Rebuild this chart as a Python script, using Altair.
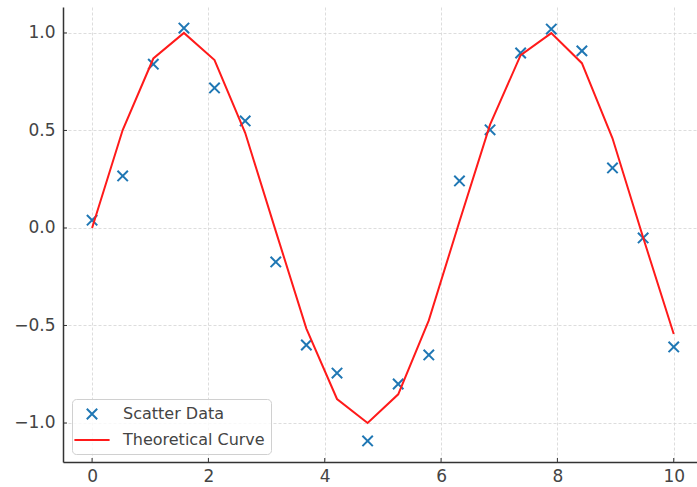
import altair as alt
import pandas as pd

x_vals = [0.0, 0.526, 1.053, 1.579, 2.105, 2.632, 3.158, 3.684, 4.211, 4.737,
          5.263, 5.789, 6.316, 6.842, 7.368, 7.895, 8.421, 8.947, 9.474, 10.0]
scatter_y = [0.04, 0.267, 0.84, 1.025, 0.718, 0.549, -0.174, -0.60, -0.744, -1.092,
             -0.80, -0.651, 0.241, 0.503, 0.897, 1.02, 0.908, 0.308, -0.051, -0.61]
curve_y = [0.0, 0.502, 0.869, 1.0, 0.861, 0.488, -0.016, -0.516, -0.877, -1.0,
           -0.853, -0.474, 0.033, 0.530, 0.886, 0.999, 0.845, 0.460, -0.049, -0.544]
series_names = ["Scatter Data", "Theoretical Curve"]
x_ticks = [0, 2, 4, 6, 8, 10]
y_ticks = [-1.0, -0.5, 0.0, 0.5, 1.0]

scatter_df = pd.DataFrame({"x": x_vals, "y": scatter_y, "series": series_names[0]})
curve_df = pd.DataFrame({"x": x_vals, "y": curve_y, "series": series_names[1]})
xtick_df = pd.DataFrame({"x": x_ticks})
ytick_df = pd.DataFrame({"y": y_ticks})

FONT = "DejaVu Sans"
W, H = 634, 455
xscale = alt.Scale(domain=[-0.5, 10.4], nice=False, zero=False)
yscale = alt.Scale(domain=[-1.2, 1.133], nice=False, zero=False)
color_scale = alt.Scale(domain=series_names, range=["#1f77b4", "#ff1a1a"])
X_PATH = "M-0.65,-0.65L0.65,0.65M0.65,-0.65L-0.65,0.65"
LINE_PATH = "M-2.2,0L2.2,0"
shape_scale = alt.Scale(domain=series_names, range=[X_PATH, LINE_PATH])

minus_expr = "replace(format(datum.value, '.1f'), '-', '\u2212')"

x_axis = alt.Axis(values=x_ticks, grid=True, gridDash=[3, 2], gridColor="#d4d4d4",
                  gridWidth=0.8, ticks=False, labelFontSize=17, labelColor="#444",
                  labelFont=FONT, labelPadding=6, domainColor="#333", domainWidth=1.5,
                  title=None, format="d")
y_axis = alt.Axis(values=y_ticks, grid=True, gridDash=[3, 2], gridColor="#d4d4d4",
                  gridWidth=0.8, ticks=False, labelFontSize=17, labelColor="#444",
                  labelFont=FONT, labelPadding=8, domainColor="#333", domainWidth=1.5,
                  title=None, labelExpr=minus_expr)

points = alt.Chart(scatter_df).mark_point(filled=False, size=256, strokeWidth=2, opacity=1).encode(
    x=alt.X("x:Q", scale=xscale, axis=x_axis),
    y=alt.Y("y:Q", scale=yscale, axis=y_axis),
    color=alt.Color("series:N", scale=color_scale,
                    legend=alt.Legend(title=None, orient="none", legendX=9, legendY=392)),
    shape=alt.Shape("series:N", scale=shape_scale,
                    legend=alt.Legend(title=None, orient="none", legendX=9, legendY=392)),
)

line = alt.Chart(curve_df).mark_line(strokeWidth=2).encode(
    x=alt.X("x:Q", scale=xscale),
    y=alt.Y("y:Q", scale=yscale),
    color=alt.Color("series:N", scale=color_scale, legend=None),
)

xticks_marks = alt.Chart(xtick_df).mark_rule(color="#333", strokeWidth=1).encode(
    x=alt.X("x:Q", scale=xscale),
    y=alt.value(H),
    y2=alt.value(H - 4),
)
yticks_marks = alt.Chart(ytick_df).mark_rule(color="#333", strokeWidth=1).encode(
    y=alt.Y("y:Q", scale=yscale),
    x=alt.value(0),
    x2=alt.value(4),
)

chart = alt.layer(points, line, xticks_marks, yticks_marks).properties(
    width=W, height=H,
    autosize=alt.AutoSizeParams(type="none"),
    padding={"left": 63, "top": 7, "right": 0, "bottom": 25},
).configure_view(stroke=None).configure_legend(
    padding=6, cornerRadius=4, strokeColor="#d0d0d0", fillColor="rgba(255,255,255,0.8)",
    labelFontSize=16, labelColor="#444", labelFont=FONT, symbolSize=256,
    symbolStrokeWidth=2, symbolOffset=5, labelOffset=22, rowPadding=7,
)

chart.save("out.html", embed_options={"renderer": "svg", "actions": False})
